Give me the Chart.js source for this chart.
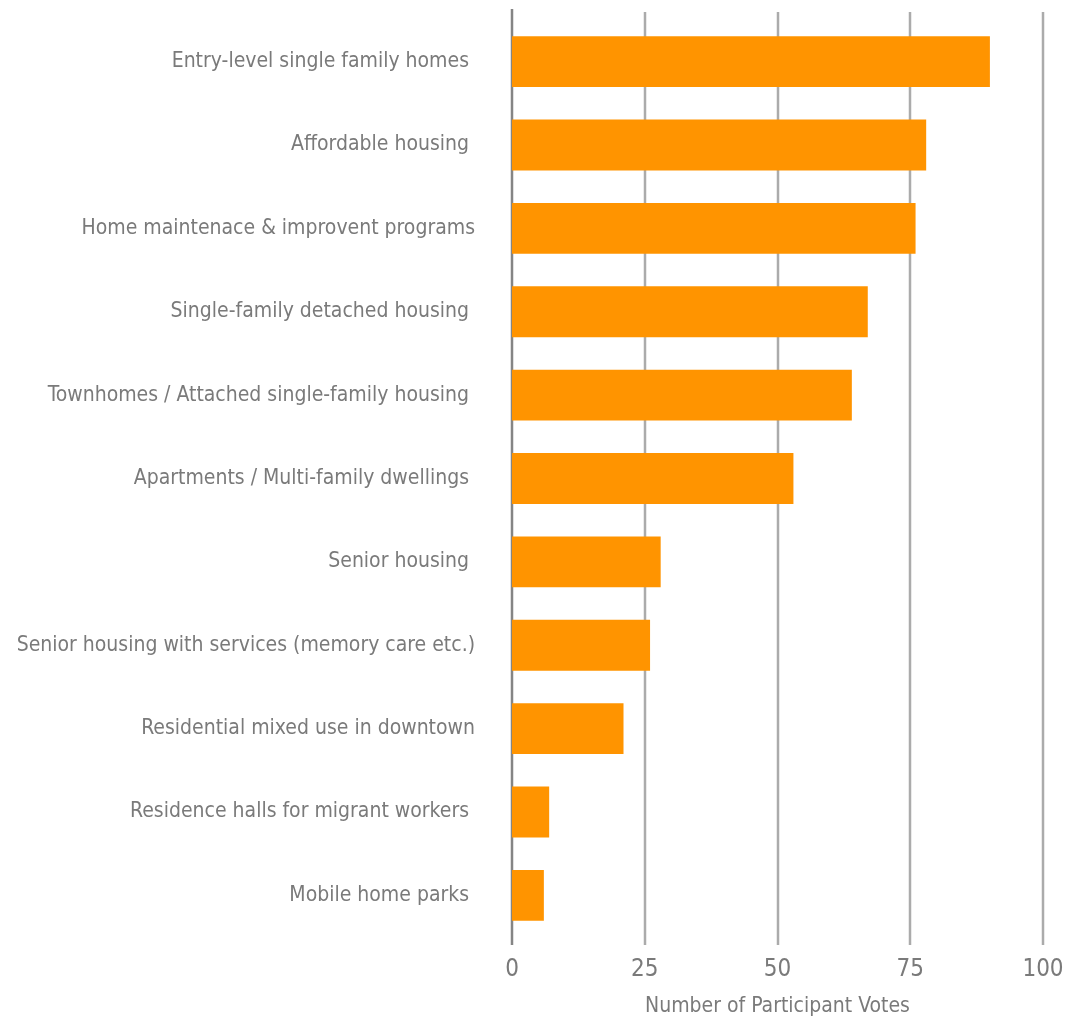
<!DOCTYPE html>
<html>
<head>
<meta charset="utf-8">
<script src="https://cdn.jsdelivr.net/npm/chart.js@4.4.1/dist/chart.umd.min.js"></script>
<style>
  html, body { margin: 0; padding: 0; background: #fff; }
  #wrap { width: 1078px; height: 1019px; }
</style>
</head>
<body>
<div id="wrap"><canvas id="votesChart" width="1078" height="1019"></canvas></div>
<script>
// housing types, top to bottom
const categories = [
  'Entry-level single family homes ',
  'Affordable housing ',
  'Home maintenace & improvent programs',
  'Single-family detached housing ',
  'Townhomes / Attached single-family housing ',
  'Apartments / Multi-family dwellings ',
  'Senior housing ',
  'Senior housing with services (memory care etc.)',
  'Residential mixed use in downtown',
  'Residence halls for migrant workers ',
  'Mobile home parks '
];
const votes = [90, 78, 76, 67, 64, 53, 28, 26, 21, 7, 6];
const xTicks = [0, 25, 50, 75, 100];

const FONT = '"Liberation Sans Narrow", "DejaVu Sans Condensed", "Roboto", sans-serif';
const TEXT = '#7a7a7a';

// vertical gridlines that run a little past the plot area, like the office chart
const gridPlugin = {
  id: 'longGrid',
  beforeDatasetsDraw(chart) {
    const { ctx, chartArea, scales } = chart;
    const x = scales.x;
    ctx.save();
    xTicks.forEach(v => {
      const px = Math.round(x.getPixelForValue(v));
      ctx.beginPath();
      if (v === 0) {
        ctx.strokeStyle = '#858585';
        ctx.moveTo(px, chartArea.top - 11);
      } else {
        ctx.strokeStyle = '#ababab';
        ctx.moveTo(px, chartArea.top - 8);
      }
      ctx.lineWidth = 2.5;
      ctx.lineTo(px, chartArea.bottom + 8);
      ctx.stroke();
    });
    ctx.restore();
  }
};

new Chart(document.getElementById('votesChart').getContext('2d'), {
  type: 'bar',
  data: {
    labels: categories,
    datasets: [{
      label: 'Votes',
      data: votes,
      backgroundColor: '#ff9400',
      borderWidth: 0,
      categoryPercentage: 1,
      barPercentage: 0.61
    }]
  },
  options: {
    indexAxis: 'y',
    responsive: false,
    animation: false,
    layout: { padding: { top: 20, right: 35, left: 0, bottom: 0 } },
    plugins: {
      legend: { display: false },
      tooltip: { enabled: false }
    },
    scales: {
      x: {
        min: 0,
        max: 100,
        afterBuildTicks: s => { s.ticks = xTicks.map(v => ({ value: v })); },
        afterFit: s => {
          s.height = 82;
          s.paddingLeft = 0;
          s.paddingRight = 0;
        },
        grid: { display: false, drawTicks: false },
        border: { display: false },
        ticks: {
          padding: 18,
          color: TEXT,
          font: { family: FONT, size: 24 }
        },
        title: {
          display: true,
          text: 'Number of Participant Votes',
          color: TEXT,
          font: { family: FONT, size: 21 },
          padding: { top: 4, bottom: 0 }
        }
      },
      y: {
        afterFit: s => {
          s.width = 512;
          // keep the tick padding from pushing the plot area down
          s.paddingTop = 0;
          s.paddingBottom = 0;
        },
        grid: { display: false, drawTicks: false },
        border: { display: false },
        ticks: {
          padding: 37,
          color: TEXT,
          font: { family: FONT, size: 21 }
        }
      }
    }
  },
  plugins: [gridPlugin]
});
</script>
</body>
</html>
